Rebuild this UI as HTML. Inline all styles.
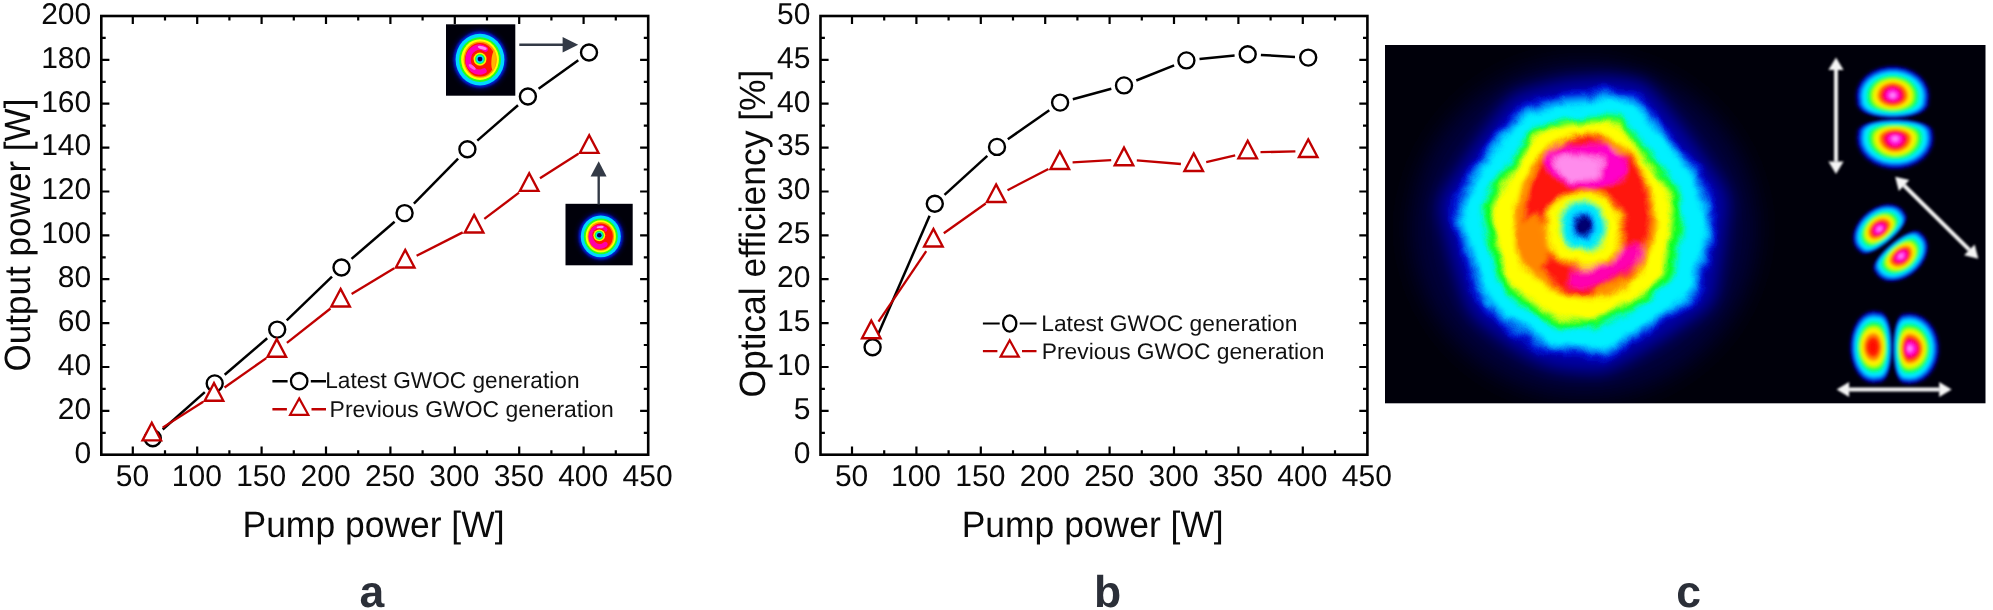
<!DOCTYPE html>
<html><head><meta charset="utf-8"><title>figure</title>
<style>html,body{margin:0;padding:0;background:#fff;}body{width:1993px;height:610px;overflow:hidden;}svg{display:block;will-change:transform;font-family:"Liberation Sans",sans-serif;text-rendering:geometricPrecision;}</style>
</head><body>
<svg width="1993" height="610" viewBox="0 0 1993 610">
<defs>
<filter id="b1" x="-20%" y="-20%" width="140%" height="140%"><feGaussianBlur stdDeviation="1"/></filter>
<filter id="b15" x="-20%" y="-20%" width="140%" height="140%"><feGaussianBlur stdDeviation="1.6"/></filter>
<filter id="b17" x="-20%" y="-20%" width="140%" height="140%"><feGaussianBlur stdDeviation="1.75"/></filter>
<filter id="b2" x="-20%" y="-20%" width="140%" height="140%"><feGaussianBlur stdDeviation="2.2"/></filter>
<filter id="b3" x="-20%" y="-20%" width="140%" height="140%"><feGaussianBlur stdDeviation="3.2"/></filter>
<filter id="b5" x="-30%" y="-30%" width="160%" height="160%"><feGaussianBlur stdDeviation="5"/></filter>
<filter id="b8" x="-30%" y="-30%" width="160%" height="160%"><feGaussianBlur stdDeviation="8"/></filter>
<filter id="b12" x="-40%" y="-40%" width="180%" height="180%"><feGaussianBlur stdDeviation="12"/></filter>
<filter id="rough" x="-10%" y="-10%" width="120%" height="120%">
<feGaussianBlur stdDeviation="2.4" result="bl"/>
<feTurbulence type="fractalNoise" baseFrequency="0.032" numOctaves="3" seed="5" result="t"/>
<feDisplacementMap in="bl" in2="t" scale="13" xChannelSelector="R" yChannelSelector="G"/>
</filter>
<filter id="b09" x="-20%" y="-20%" width="140%" height="140%"><feGaussianBlur stdDeviation="0.55"/></filter>
<filter id="b07" x="-20%" y="-20%" width="140%" height="140%"><feGaussianBlur stdDeviation="0.7"/></filter>
</defs>
<rect width="1993" height="610" fill="#fff"/>
<!-- chart a -->
<g transform="translate(0,0)" stroke="#000" stroke-width="2.6" fill="none" stroke-linecap="butt">
<rect x="101.3" y="16.0" width="546.9000000000001" height="438.7"/>
<g stroke-width="2.2">
<path d="M132.8 454.7v-8.1M132.8 16.0v8.1"/>
<path d="M197.2 454.7v-8.1M197.2 16.0v8.1"/>
<path d="M261.6 454.7v-8.1M261.6 16.0v8.1"/>
<path d="M326.0 454.7v-8.1M326.0 16.0v8.1"/>
<path d="M390.4 454.7v-8.1M390.4 16.0v8.1"/>
<path d="M454.8 454.7v-8.1M454.8 16.0v8.1"/>
<path d="M519.2 454.7v-8.1M519.2 16.0v8.1"/>
<path d="M583.6 454.7v-8.1M583.6 16.0v8.1"/>
<path d="M165.0 454.7v-4.4M165.0 16.0v4.4"/>
<path d="M229.4 454.7v-4.4M229.4 16.0v4.4"/>
<path d="M293.8 454.7v-4.4M293.8 16.0v4.4"/>
<path d="M358.2 454.7v-4.4M358.2 16.0v4.4"/>
<path d="M422.6 454.7v-4.4M422.6 16.0v4.4"/>
<path d="M487.0 454.7v-4.4M487.0 16.0v4.4"/>
<path d="M551.4 454.7v-4.4M551.4 16.0v4.4"/>
<path d="M615.8 454.7v-4.4M615.8 16.0v4.4"/>
<path d="M101.3 410.8h8.1M648.2 410.8h-8.1"/>
<path d="M101.3 367.0h8.1M648.2 367.0h-8.1"/>
<path d="M101.3 323.1h8.1M648.2 323.1h-8.1"/>
<path d="M101.3 279.2h8.1M648.2 279.2h-8.1"/>
<path d="M101.3 235.4h8.1M648.2 235.4h-8.1"/>
<path d="M101.3 191.5h8.1M648.2 191.5h-8.1"/>
<path d="M101.3 147.6h8.1M648.2 147.6h-8.1"/>
<path d="M101.3 103.7h8.1M648.2 103.7h-8.1"/>
<path d="M101.3 59.9h8.1M648.2 59.9h-8.1"/>
<path d="M101.3 432.8h4.4M648.2 432.8h-4.4"/>
<path d="M101.3 388.9h4.4M648.2 388.9h-4.4"/>
<path d="M101.3 345.0h4.4M648.2 345.0h-4.4"/>
<path d="M101.3 301.2h4.4M648.2 301.2h-4.4"/>
<path d="M101.3 257.3h4.4M648.2 257.3h-4.4"/>
<path d="M101.3 213.4h4.4M648.2 213.4h-4.4"/>
<path d="M101.3 169.5h4.4M648.2 169.5h-4.4"/>
<path d="M101.3 125.7h4.4M648.2 125.7h-4.4"/>
<path d="M101.3 81.8h4.4M648.2 81.8h-4.4"/>
<path d="M101.3 37.9h4.4M648.2 37.9h-4.4"/>
</g></g>
<g transform="translate(0,0)" font-size="30" fill="#0a0a0a">
<text x="132.4" y="486.3" text-anchor="middle">50</text>
<text x="196.8" y="486.3" text-anchor="middle">100</text>
<text x="261.2" y="486.3" text-anchor="middle">150</text>
<text x="325.6" y="486.3" text-anchor="middle">200</text>
<text x="390.0" y="486.3" text-anchor="middle">250</text>
<text x="454.4" y="486.3" text-anchor="middle">300</text>
<text x="518.8" y="486.3" text-anchor="middle">350</text>
<text x="583.2" y="486.3" text-anchor="middle">400</text>
<text x="647.6" y="486.3" text-anchor="middle">450</text>
<text x="91.2" y="462.5" text-anchor="end">0</text>
<text x="91.2" y="418.6" text-anchor="end">20</text>
<text x="91.2" y="374.8" text-anchor="end">40</text>
<text x="91.2" y="330.9" text-anchor="end">60</text>
<text x="91.2" y="287.0" text-anchor="end">80</text>
<text x="91.2" y="243.2" text-anchor="end">100</text>
<text x="91.2" y="199.3" text-anchor="end">120</text>
<text x="91.2" y="155.4" text-anchor="end">140</text>
<text x="91.2" y="111.5" text-anchor="end">160</text>
<text x="91.2" y="67.7" text-anchor="end">180</text>
<text x="91.2" y="23.8" text-anchor="end">200</text>
</g>
<g stroke="#000" stroke-width="2.5" fill="none">
<path d="M162.7 429.5L204.8 392.1"/>
<path d="M224.7 374.8L267.2 338.2"/>
<path d="M286.7 320.4L332.0 276.7"/>
<path d="M351.5 258.9L394.6 221.7"/>
<path d="M413.9 203.7L458.1 158.7"/>
<path d="M477.3 140.6L518.0 105.2"/>
<path d="M538.6 88.8L578.3 60.2"/>
</g>
<g stroke="#000" stroke-width="2.4" fill="#fff">
<circle cx="152.8" cy="438.2" r="8"/>
<circle cx="214.7" cy="383.4" r="8"/>
<circle cx="277.2" cy="329.6" r="8"/>
<circle cx="341.5" cy="267.5" r="8"/>
<circle cx="404.6" cy="213.1" r="8"/>
<circle cx="467.4" cy="149.3" r="8"/>
<circle cx="527.9" cy="96.5" r="8"/>
<circle cx="589.0" cy="52.5" r="8"/>
</g>
<g stroke="#c00000" stroke-width="2.3" fill="none">
<path d="M162.6 427.6L203.2 401.7"/>
<path d="M224.5 387.5L266.3 358.1"/>
<path d="M286.9 342.9L330.5 308.5"/>
<path d="M351.6 294.0L394.2 268.2"/>
<path d="M416.6 255.8L462.7 232.4"/>
<path d="M484.3 218.9L519.0 192.7"/>
<path d="M540.0 178.2L578.4 153.8"/>
</g>
<g stroke="#c00000" stroke-width="2.35" fill="#fff" stroke-linejoin="miter">
<path d="M151.8 422.8L161.1 440.4L142.5 440.4Z"/>
<path d="M214.0 383.1L223.3 400.7L204.7 400.7Z"/>
<path d="M276.8 339.1L286.1 356.7L267.5 356.7Z"/>
<path d="M340.6 288.9L349.9 306.5L331.3 306.5Z"/>
<path d="M405.2 249.9L414.5 267.5L395.9 267.5Z"/>
<path d="M474.1 214.9L483.4 232.5L464.8 232.5Z"/>
<path d="M529.2 173.3L538.5 190.9L519.9 190.9Z"/>
<path d="M589.2 135.3L598.5 152.9L579.9 152.9Z"/>
</g>
<text x="242.5" y="537.3" font-size="36.6" fill="#0a0a0a" textLength="262" lengthAdjust="spacingAndGlyphs">Pump power [W]</text>
<text transform="translate(29.8,371.4) rotate(-90)" font-size="36.6" fill="#0a0a0a" textLength="272.8" lengthAdjust="spacingAndGlyphs">Output power [W]</text>
<text x="371.9" y="607" font-size="44.5" font-weight="bold" text-anchor="middle" fill="#2b2f38">a</text>
<g fill="none" stroke-width="2.4">
<path d="M272.4 381.2H287.6M310.8 381.2H326.0" stroke="#000"/>
<ellipse cx="299.2" cy="381.2" rx="8.2" ry="8.2" stroke="#000" stroke-width="2.3"/>
<path d="M272.4 409.2H286.9M311.5 409.2H326.0" stroke="#c00000"/>
<path d="M299.2 398.4L308.3 414.8L290.1 414.8Z" stroke="#c00000" stroke-width="2.2"/>
</g>
<text x="325.2" y="387.9" font-size="23" fill="#111" textLength="254.3" lengthAdjust="spacingAndGlyphs">Latest GWOC generation</text>
<text x="329.6" y="416.6" font-size="23" fill="#111" textLength="284.2" lengthAdjust="spacingAndGlyphs">Previous GWOC generation</text>
<rect x="446" y="24.3" width="69.3" height="71.4" fill="#00000a"/>
<clipPath id="ci1"><rect x="446" y="24.3" width="69.3" height="71.4"/></clipPath>
<g clip-path="url(#ci1)"><ellipse cx="480.0" cy="59.6" rx="28.5" ry="30.5" fill="#000050" filter="url(#b2)"/>
<g filter="url(#b09)">
<ellipse cx="480.0" cy="59.6" rx="26.4" ry="28.0" fill="#0020d8" filter="url(#b1)"/>
<ellipse cx="480.0" cy="59.6" rx="24.4" ry="25.9" fill="#00d8ff"/>
<ellipse cx="480.0" cy="59.6" rx="20.9" ry="22.3" fill="#20ff20"/>
<ellipse cx="480.0" cy="59.6" rx="18.9" ry="20.3" fill="#ffff00"/>
<ellipse cx="480.2" cy="59.6" rx="16.6" ry="18.2" fill="#ff9000"/>
<ellipse cx="480.0" cy="59.8" rx="15.0" ry="16.8" fill="#ff1400"/>
<ellipse cx="493.6" cy="60.6" rx="2.2" ry="9.5" fill="#ffb400" transform="rotate(4 493.6 60.6)"/>
<path d="M485.3 49.1A11.2 12.4 0 1 0 484.0 70.9" fill="none" stroke="#ff00b4" stroke-width="5.4" stroke-linecap="round"/>
<ellipse cx="482.3" cy="47.8" rx="4.6" ry="1.6" fill="#ff8cf0" transform="rotate(16 482.3 47.8)"/>
<ellipse cx="472.2" cy="67.0" rx="4.2" ry="1.6" fill="#ff60e4" transform="rotate(38 472.2 67.0)"/>
<ellipse cx="480.0" cy="59.1" rx="6.5" ry="6.6" fill="#ffee00"/>
<ellipse cx="480.0" cy="59.1" rx="5.0" ry="5.1" fill="#20ff30"/>
<ellipse cx="480.0" cy="59.1" rx="3.8" ry="3.9" fill="#00d8ff"/>
<ellipse cx="480.0" cy="59.1" rx="2.4" ry="2.4" fill="#000060"/>
</g></g>
<path d="M519.3 44.8H564" stroke="#333a46" stroke-width="2.4" fill="none"/>
<path d="M562.6 37L578.2 44.8L562.6 52.5Z" fill="#333a46"/>
<rect x="565.5" y="203.8" width="67.2" height="61.5" fill="#00000a"/>
<clipPath id="ci2"><rect x="565.5" y="203.8" width="67.2" height="61.5"/></clipPath>
<g clip-path="url(#ci2)"><ellipse cx="600.8" cy="236.4" rx="24.0" ry="25.0" fill="#000050" filter="url(#b2)"/>
<g filter="url(#b09)">
<ellipse cx="600.8" cy="236.4" rx="22.0" ry="23.0" fill="#0020d8" filter="url(#b1)"/>
<ellipse cx="600.8" cy="236.4" rx="20.0" ry="20.9" fill="#00d8ff"/>
<ellipse cx="600.8" cy="236.4" rx="17.0" ry="17.9" fill="#20ff20"/>
<ellipse cx="600.8" cy="236.4" rx="15.1" ry="16.1" fill="#ffff00"/>
<ellipse cx="600.8" cy="236.4" rx="13.2" ry="14.4" fill="#ff9000"/>
<ellipse cx="600.8" cy="236.6" rx="12.0" ry="13.2" fill="#ff1400"/>
<path d="M605.0 229.3A8.7 9.6 0 1 0 605.2 244.3" fill="none" stroke="#ff00a8" stroke-width="5.0" stroke-linecap="round"/>
<ellipse cx="600.2" cy="227.2" rx="3.6" ry="1.3" fill="#ff90f0" transform="rotate(-6 600.2 227.2)"/>
<ellipse cx="599.3" cy="235.3" rx="7.0" ry="7.0" fill="#ff1800"/>
<ellipse cx="599.3" cy="235.3" rx="5.9" ry="5.9" fill="#ffee00"/>
<ellipse cx="599.3" cy="235.3" rx="4.6" ry="4.6" fill="#20ff30"/>
<ellipse cx="599.3" cy="235.3" rx="3.4" ry="3.4" fill="#00d8ff"/>
<ellipse cx="599.3" cy="235.3" rx="2.3" ry="2.3" fill="#000060"/>
</g></g>
<path d="M598.7 204.5V175" stroke="#333a46" stroke-width="2.4" fill="none"/>
<path d="M590.6 176.4L598.7 161.3L606.6 176.4Z" fill="#333a46"/>
<!-- chart b -->
<g transform="translate(719.2,0)" stroke="#000" stroke-width="2.6" fill="none" stroke-linecap="butt">
<rect x="101.3" y="16.0" width="546.9000000000001" height="438.7"/>
<g stroke-width="2.2">
<path d="M132.8 454.7v-8.1M132.8 16.0v8.1"/>
<path d="M197.2 454.7v-8.1M197.2 16.0v8.1"/>
<path d="M261.6 454.7v-8.1M261.6 16.0v8.1"/>
<path d="M326.0 454.7v-8.1M326.0 16.0v8.1"/>
<path d="M390.4 454.7v-8.1M390.4 16.0v8.1"/>
<path d="M454.8 454.7v-8.1M454.8 16.0v8.1"/>
<path d="M519.2 454.7v-8.1M519.2 16.0v8.1"/>
<path d="M583.6 454.7v-8.1M583.6 16.0v8.1"/>
<path d="M165.0 454.7v-4.4M165.0 16.0v4.4"/>
<path d="M229.4 454.7v-4.4M229.4 16.0v4.4"/>
<path d="M293.8 454.7v-4.4M293.8 16.0v4.4"/>
<path d="M358.2 454.7v-4.4M358.2 16.0v4.4"/>
<path d="M422.6 454.7v-4.4M422.6 16.0v4.4"/>
<path d="M487.0 454.7v-4.4M487.0 16.0v4.4"/>
<path d="M551.4 454.7v-4.4M551.4 16.0v4.4"/>
<path d="M615.8 454.7v-4.4M615.8 16.0v4.4"/>
<path d="M101.3 410.8h8.1M648.2 410.8h-8.1"/>
<path d="M101.3 367.0h8.1M648.2 367.0h-8.1"/>
<path d="M101.3 323.1h8.1M648.2 323.1h-8.1"/>
<path d="M101.3 279.2h8.1M648.2 279.2h-8.1"/>
<path d="M101.3 235.4h8.1M648.2 235.4h-8.1"/>
<path d="M101.3 191.5h8.1M648.2 191.5h-8.1"/>
<path d="M101.3 147.6h8.1M648.2 147.6h-8.1"/>
<path d="M101.3 103.7h8.1M648.2 103.7h-8.1"/>
<path d="M101.3 59.9h8.1M648.2 59.9h-8.1"/>
<path d="M101.3 432.8h4.4M648.2 432.8h-4.4"/>
<path d="M101.3 388.9h4.4M648.2 388.9h-4.4"/>
<path d="M101.3 345.0h4.4M648.2 345.0h-4.4"/>
<path d="M101.3 301.2h4.4M648.2 301.2h-4.4"/>
<path d="M101.3 257.3h4.4M648.2 257.3h-4.4"/>
<path d="M101.3 213.4h4.4M648.2 213.4h-4.4"/>
<path d="M101.3 169.5h4.4M648.2 169.5h-4.4"/>
<path d="M101.3 125.7h4.4M648.2 125.7h-4.4"/>
<path d="M101.3 81.8h4.4M648.2 81.8h-4.4"/>
<path d="M101.3 37.9h4.4M648.2 37.9h-4.4"/>
</g></g>
<g transform="translate(719.2,0)" font-size="30" fill="#0a0a0a">
<text x="132.4" y="486.3" text-anchor="middle">50</text>
<text x="196.8" y="486.3" text-anchor="middle">100</text>
<text x="261.2" y="486.3" text-anchor="middle">150</text>
<text x="325.6" y="486.3" text-anchor="middle">200</text>
<text x="390.0" y="486.3" text-anchor="middle">250</text>
<text x="454.4" y="486.3" text-anchor="middle">300</text>
<text x="518.8" y="486.3" text-anchor="middle">350</text>
<text x="583.2" y="486.3" text-anchor="middle">400</text>
<text x="647.6" y="486.3" text-anchor="middle">450</text>
<text x="91.2" y="462.5" text-anchor="end">0</text>
<text x="91.2" y="418.6" text-anchor="end">5</text>
<text x="91.2" y="374.8" text-anchor="end">10</text>
<text x="91.2" y="330.9" text-anchor="end">15</text>
<text x="91.2" y="287.0" text-anchor="end">20</text>
<text x="91.2" y="243.2" text-anchor="end">25</text>
<text x="91.2" y="199.3" text-anchor="end">30</text>
<text x="91.2" y="155.4" text-anchor="end">35</text>
<text x="91.2" y="111.5" text-anchor="end">40</text>
<text x="91.2" y="67.7" text-anchor="end">45</text>
<text x="91.2" y="23.8" text-anchor="end">50</text>
</g>
<g stroke="#000" stroke-width="2.5" fill="none">
<path d="M877.8 335.1L929.6 215.8"/>
<path d="M944.5 194.8L987.3 155.8"/>
<path d="M1007.8 139.3L1049.3 110.2"/>
<path d="M1072.8 99.2L1111.3 88.8"/>
<path d="M1136.3 80.5L1174.1 65.3"/>
<path d="M1199.5 59.1L1234.6 55.5"/>
<path d="M1260.9 54.9L1295.0 56.9"/>
</g>
<g stroke="#000" stroke-width="2.4" fill="#fff">
<circle cx="872.6" cy="347.2" r="8"/>
<circle cx="934.8" cy="203.7" r="8"/>
<circle cx="997.0" cy="146.9" r="8"/>
<circle cx="1060.1" cy="102.6" r="8"/>
<circle cx="1124.0" cy="85.4" r="8"/>
<circle cx="1186.4" cy="60.4" r="8"/>
<circle cx="1247.7" cy="54.2" r="8"/>
<circle cx="1308.2" cy="57.6" r="8"/>
</g>
<g stroke="#c00000" stroke-width="2.3" fill="none">
<path d="M878.5 321.7L926.2 251.2"/>
<path d="M943.8 233.2L985.7 203.5"/>
<path d="M1007.5 190.2L1048.4 169.0"/>
<path d="M1072.6 162.3L1111.2 160.1"/>
<path d="M1136.8 160.4L1180.9 164.0"/>
<path d="M1206.2 162.2L1235.2 155.4"/>
<path d="M1260.5 152.2L1295.4 151.4"/>
</g>
<g stroke="#c00000" stroke-width="2.35" fill="#fff" stroke-linejoin="miter">
<path d="M871.3 320.6L880.6 338.2L862.0 338.2Z"/>
<path d="M933.4 228.9L942.7 246.5L924.1 246.5Z"/>
<path d="M996.1 184.4L1005.4 202.0L986.8 202.0Z"/>
<path d="M1059.8 151.4L1069.1 169.0L1050.5 169.0Z"/>
<path d="M1124.0 147.6L1133.3 165.2L1114.7 165.2Z"/>
<path d="M1193.7 153.4L1203.0 171.0L1184.4 171.0Z"/>
<path d="M1247.7 140.8L1257.0 158.4L1238.4 158.4Z"/>
<path d="M1308.2 139.4L1317.5 157.0L1298.9 157.0Z"/>
</g>
<text x="961.7" y="537.3" font-size="36.6" fill="#0a0a0a" textLength="262" lengthAdjust="spacingAndGlyphs">Pump power [W]</text>
<text transform="translate(765,397.6) rotate(-90)" font-size="36.6" fill="#0a0a0a" textLength="328" lengthAdjust="spacingAndGlyphs">Optical efficiency [%]</text>
<text x="1107.7" y="607" font-size="44.5" font-weight="bold" text-anchor="middle" fill="#2b2f38">b</text>
<g fill="none" stroke-width="2.1">
<path d="M982.9 323.5H999.7M1019.7 323.5H1036.5" stroke="#000"/>
<ellipse cx="1009.7" cy="323.5" rx="6.6" ry="8.2" stroke="#000" stroke-width="2.3"/>
<path d="M982.9 351.1H997.4M1022.0 351.1H1036.5" stroke="#c00000"/>
<path d="M1009.7 340.3L1018.8 356.7L1000.6 356.7Z" stroke="#c00000" stroke-width="2.2"/>
</g>
<text x="1041.2" y="331.2" font-size="22.5" fill="#111" textLength="256.3" lengthAdjust="spacingAndGlyphs">Latest GWOC generation</text>
<text x="1041.8" y="358.7" font-size="22.5" fill="#111" textLength="282.7" lengthAdjust="spacingAndGlyphs">Previous GWOC generation</text>
<!-- panel c -->
<rect x="1385" y="45" width="600.5" height="358.3" fill="#00000a"/>
<clipPath id="cpc"><rect x="1385" y="45" width="600.5" height="358.3"/></clipPath>
<g clip-path="url(#cpc)">
<ellipse cx="1584" cy="229" rx="172" ry="168" fill="#00003a" filter="url(#b12)"/>
<path d="M1646.7 84.8C1653.9 90.8 1663.2 102.5 1673.1 115.1C1683.0 127.6 1697.2 146.9 1706.2 160.1C1715.3 173.4 1724.1 183.5 1727.4 194.7C1730.7 205.9 1727.5 214.5 1726.2 227.4C1725.0 240.3 1722.2 259.4 1719.8 272.0C1717.4 284.7 1717.8 294.5 1711.7 303.5C1705.6 312.5 1695.0 317.8 1683.2 326.2C1671.4 334.6 1653.3 346.4 1640.9 353.8C1628.4 361.2 1617.3 367.7 1608.5 370.8C1599.7 373.9 1596.2 372.6 1588.1 372.4C1580.0 372.2 1568.0 371.1 1560.0 369.7C1552.1 368.3 1547.3 367.0 1540.2 364.0C1533.0 361.0 1525.9 357.3 1517.3 351.7C1508.6 346.2 1496.2 337.1 1488.3 330.6C1480.3 324.0 1474.7 320.7 1469.5 312.5C1464.3 304.2 1461.4 293.7 1457.2 280.9C1453.1 268.1 1447.8 248.9 1444.8 235.8C1441.8 222.8 1437.1 213.6 1439.2 202.6C1441.4 191.5 1449.6 182.3 1457.6 169.6C1465.5 156.9 1478.1 138.4 1487.0 126.3C1495.9 114.3 1503.4 103.6 1511.0 97.2C1518.6 90.8 1523.8 90.9 1532.6 88.0C1541.4 85.2 1554.7 81.9 1563.8 80.2C1573.0 78.6 1580.3 78.7 1587.2 78.1C1594.2 77.5 1598.5 76.2 1605.6 76.4C1612.7 76.6 1623.1 77.8 1630.0 79.2C1636.8 80.6 1639.5 78.9 1646.7 84.8Z" fill="#0000a8" filter="url(#b8)"/>
<g filter="url(#rough)">
<path d="M1641.6 96.4C1648.2 101.9 1656.7 112.6 1665.8 124.1C1674.9 135.7 1687.9 153.3 1696.2 165.5C1704.5 177.7 1712.6 186.9 1715.6 197.2C1718.7 207.5 1715.7 215.4 1714.6 227.2C1713.4 239.0 1710.9 256.5 1708.6 268.1C1706.4 279.8 1706.8 288.7 1701.2 297.0C1695.6 305.3 1685.9 310.1 1675.1 317.8C1664.3 325.5 1647.7 336.3 1636.3 343.2C1624.9 350.0 1614.7 355.9 1606.6 358.7C1598.5 361.6 1595.3 360.4 1587.8 360.3C1580.4 360.1 1569.4 359.0 1562.1 357.7C1554.8 356.4 1550.4 355.3 1543.9 352.5C1537.3 349.8 1530.8 346.4 1522.9 341.3C1514.9 336.1 1503.6 327.9 1496.3 321.8C1489.0 315.8 1483.8 312.8 1479.1 305.2C1474.3 297.6 1471.6 288.0 1467.8 276.3C1464.0 264.6 1459.1 246.9 1456.4 234.9C1453.6 222.9 1449.3 214.6 1451.3 204.4C1453.2 194.3 1460.8 185.8 1468.1 174.1C1475.4 162.5 1486.9 145.5 1495.1 134.5C1503.3 123.4 1510.1 113.6 1517.1 107.7C1524.1 101.9 1528.8 101.9 1536.9 99.3C1545.0 96.8 1557.2 93.7 1565.6 92.2C1573.9 90.7 1580.7 90.8 1587.1 90.3C1593.4 89.7 1597.4 88.5 1603.9 88.7C1610.4 88.9 1620.0 89.9 1626.3 91.2C1632.5 92.5 1635.0 90.9 1641.6 96.4Z" fill="#0014e0"/>
<path d="M1638.6 103.1C1644.9 108.3 1653.0 118.5 1661.6 129.4C1670.2 140.3 1682.5 157.1 1690.4 168.6C1698.3 180.1 1705.9 188.9 1708.8 198.7C1711.7 208.4 1708.9 215.9 1707.8 227.1C1706.7 238.3 1704.3 254.9 1702.2 265.9C1700.1 276.9 1700.5 285.4 1695.2 293.2C1689.9 301.1 1680.7 305.7 1670.4 313.0C1660.1 320.3 1644.4 330.5 1633.6 337.0C1622.8 343.5 1613.1 349.1 1605.5 351.8C1597.8 354.4 1594.7 353.4 1587.7 353.2C1580.7 353.0 1570.2 352.0 1563.3 350.8C1556.3 349.6 1552.2 348.5 1546.0 345.9C1539.8 343.3 1533.6 340.0 1526.1 335.2C1518.6 330.4 1507.8 322.5 1500.9 316.8C1494.0 311.1 1489.1 308.2 1484.6 301.1C1480.1 293.9 1477.5 284.7 1473.9 273.6C1470.3 262.5 1465.7 245.8 1463.1 234.4C1460.5 223.1 1456.4 215.1 1458.2 205.5C1460.1 195.9 1467.3 187.9 1474.2 176.8C1481.1 165.8 1492.1 149.7 1499.8 139.2C1507.5 128.7 1514.1 119.4 1520.7 113.9C1527.2 108.3 1531.7 108.4 1539.4 105.9C1547.1 103.4 1558.7 100.5 1566.6 99.1C1574.5 97.7 1580.9 97.8 1587.0 97.3C1593.0 96.7 1596.7 95.6 1602.9 95.8C1609.1 96.0 1618.1 97.0 1624.1 98.2C1630.1 99.4 1632.4 97.9 1638.6 103.1Z" fill="#00a0ff"/>
<path d="M1636.2 108.6C1642.2 113.6 1649.9 123.3 1658.2 133.7C1666.4 144.1 1678.1 160.1 1685.7 171.1C1693.2 182.2 1700.5 190.5 1703.3 199.9C1706.0 209.2 1703.3 216.3 1702.3 227.0C1701.2 237.7 1698.9 253.5 1696.9 264.1C1694.9 274.6 1695.3 282.7 1690.2 290.2C1685.2 297.7 1676.4 302.1 1666.6 309.0C1656.8 316.0 1641.7 325.8 1631.4 332.0C1621.1 338.1 1611.9 343.5 1604.6 346.0C1597.2 348.6 1594.3 347.6 1587.6 347.4C1580.9 347.3 1570.9 346.3 1564.3 345.1C1557.6 344.0 1553.7 342.9 1547.8 340.5C1541.8 338.0 1535.9 334.9 1528.8 330.2C1521.6 325.6 1511.3 318.1 1504.7 312.7C1498.1 307.2 1493.4 304.5 1489.1 297.6C1484.8 290.8 1482.3 282.0 1478.9 271.4C1475.5 260.8 1471.1 244.8 1468.6 234.0C1466.1 223.1 1462.2 215.5 1464.0 206.4C1465.7 197.2 1472.6 189.5 1479.2 179.0C1485.8 168.4 1496.2 153.1 1503.6 143.1C1511.0 133.0 1517.2 124.2 1523.5 118.9C1529.8 113.6 1534.1 113.6 1541.5 111.3C1548.8 108.9 1559.9 106.1 1567.4 104.8C1575.0 103.4 1581.1 103.5 1586.9 103.0C1592.6 102.5 1596.2 101.5 1602.1 101.6C1608.0 101.8 1616.7 102.7 1622.3 103.9C1628.0 105.1 1630.2 103.6 1636.2 108.6Z" fill="#00f0ff"/>
<path d="M1626.0 121.2C1631.1 125.6 1637.7 134.1 1644.7 143.2C1651.7 152.3 1661.7 166.3 1668.1 175.9C1674.5 185.5 1680.7 192.9 1683.0 201.0C1685.4 209.2 1683.1 215.4 1682.2 224.8C1681.3 234.1 1679.4 247.9 1677.7 257.2C1676.0 266.4 1676.3 273.4 1672.0 280.0C1667.7 286.5 1660.2 290.4 1651.8 296.5C1643.5 302.6 1630.7 311.1 1622.0 316.5C1613.2 321.9 1605.3 326.6 1599.1 328.8C1592.9 331.1 1590.4 330.2 1584.7 330.0C1579.0 329.9 1570.5 329.1 1564.9 328.0C1559.2 327.0 1555.9 326.1 1550.8 324.0C1545.8 321.8 1540.8 319.1 1534.7 315.0C1528.6 311.0 1519.8 304.4 1514.2 299.7C1508.6 294.9 1504.6 292.5 1501.0 286.5C1497.3 280.5 1495.2 272.9 1492.3 263.6C1489.4 254.3 1485.6 240.3 1483.5 230.8C1481.4 221.4 1478.1 214.7 1479.6 206.7C1481.1 198.7 1486.9 192.0 1492.5 182.8C1498.2 173.5 1507.0 160.1 1513.3 151.4C1519.6 142.6 1524.9 134.8 1530.2 130.2C1535.6 125.6 1539.3 125.6 1545.5 123.6C1551.7 121.5 1561.1 119.1 1567.6 117.9C1574.0 116.7 1579.2 116.8 1584.1 116.3C1589.0 115.9 1592.0 115.0 1597.0 115.1C1602.1 115.2 1609.4 116.1 1614.2 117.1C1619.1 118.1 1621.0 116.9 1626.0 121.2Z" fill="#10ff20"/>
<path d="M1620.8 128.8C1625.3 132.7 1631.1 140.5 1637.3 148.9C1643.4 157.2 1652.2 170.0 1657.9 178.9C1663.5 187.7 1669.0 194.4 1671.0 201.9C1673.1 209.3 1671.1 215.0 1670.3 223.6C1669.5 232.2 1667.8 244.9 1666.3 253.3C1664.8 261.7 1665.1 268.2 1661.3 274.2C1657.5 280.2 1650.9 283.7 1643.6 289.3C1636.2 294.9 1625.0 302.7 1617.2 307.7C1609.5 312.6 1602.6 316.9 1597.1 319.0C1591.7 321.0 1589.5 320.2 1584.4 320.1C1579.4 320.0 1572.0 319.2 1567.0 318.2C1562.0 317.3 1559.0 316.5 1554.6 314.5C1550.2 312.5 1545.8 310.0 1540.4 306.3C1535.0 302.6 1527.3 296.6 1522.4 292.2C1517.4 287.9 1513.9 285.7 1510.7 280.2C1507.5 274.7 1505.6 267.7 1503.1 259.2C1500.5 250.7 1497.2 237.9 1495.3 229.2C1493.5 220.5 1490.6 214.4 1491.9 207.1C1493.2 199.7 1498.3 193.6 1503.3 185.1C1508.2 176.7 1516.0 164.4 1521.6 156.4C1527.1 148.3 1531.8 141.2 1536.5 137.0C1541.2 132.7 1544.4 132.8 1549.9 130.9C1555.4 129.0 1563.7 126.8 1569.3 125.7C1575.0 124.6 1579.6 124.7 1583.9 124.3C1588.2 123.9 1590.9 123.0 1595.3 123.2C1599.7 123.3 1606.2 124.1 1610.5 125.0C1614.7 125.9 1616.4 124.8 1620.8 128.8Z" fill="#ffff00"/>
<path d="M1656.8 217.0C1657.0 227.4 1654.6 238.9 1650.9 248.4C1647.3 257.9 1640.9 266.1 1634.8 274.0C1628.6 281.9 1622.1 292.1 1614.0 295.9C1605.8 299.7 1595.2 297.1 1586.0 296.7C1576.8 296.4 1567.5 296.9 1558.8 293.7C1550.2 290.5 1540.2 285.2 1534.2 277.6C1528.2 269.9 1525.9 257.8 1522.6 247.7C1519.4 237.6 1515.2 227.5 1514.7 217.0C1514.2 206.5 1516.0 194.4 1519.8 184.9C1523.6 175.5 1531.1 167.8 1537.6 160.5C1544.2 153.2 1551.0 145.7 1559.1 141.1C1567.2 136.4 1577.0 132.7 1586.0 132.6C1595.0 132.6 1604.5 136.5 1613.1 140.6C1621.6 144.7 1631.0 149.7 1637.1 157.3C1643.2 164.8 1646.5 176.2 1649.8 186.1C1653.1 196.1 1656.6 206.6 1656.8 217.0Z" fill="#ff9000"/>
<path d="M1650.4 216.0C1650.3 225.8 1647.9 236.1 1644.8 245.3C1641.7 254.4 1637.6 264.2 1631.9 270.9C1626.2 277.5 1617.9 281.0 1610.4 285.0C1602.9 289.1 1595.0 294.7 1587.0 295.4C1579.0 296.1 1569.6 293.5 1562.1 289.4C1554.6 285.4 1547.0 278.8 1541.8 271.3C1536.5 263.8 1533.8 253.7 1530.8 244.5C1527.8 235.3 1524.0 225.6 1523.9 216.0C1523.7 206.4 1526.5 195.9 1529.8 187.0C1533.1 178.2 1538.2 170.5 1543.6 162.9C1548.9 155.3 1554.6 146.3 1561.8 141.6C1569.0 137.0 1579.0 134.1 1587.0 135.2C1595.0 136.3 1602.3 144.0 1610.0 148.1C1617.7 152.2 1627.2 153.2 1633.2 159.6C1639.1 165.9 1642.9 176.8 1645.8 186.2C1648.7 195.6 1650.6 206.2 1650.4 216.0Z" fill="#ff1808"/>
<path d="M1548.2 244.0C1547.9 249.4 1547.2 256.4 1545.3 260.8C1543.4 265.2 1539.8 269.1 1536.8 270.5C1533.9 271.9 1530.1 271.3 1527.5 269.2C1525.0 267.1 1522.9 262.4 1521.3 257.9C1519.8 253.3 1518.1 247.4 1518.3 241.9C1518.5 236.4 1520.4 229.2 1522.5 224.9C1524.7 220.6 1528.2 217.4 1531.2 216.1C1534.2 214.7 1537.9 214.7 1540.5 216.7C1543.1 218.7 1545.4 223.5 1546.7 228.1C1548.0 232.6 1548.4 238.5 1548.2 244.0Z" fill="#ff8600"/>
<path d="M1627.7 167.6C1627.9 171.2 1626.9 175.4 1623.6 178.4C1620.2 181.4 1613.7 184.1 1607.4 185.6C1601.2 187.2 1592.8 188.4 1585.8 187.9C1578.9 187.3 1571.6 184.6 1565.9 182.3C1560.1 180.0 1554.5 177.2 1551.3 174.0C1548.1 170.9 1546.6 166.9 1546.8 163.4C1547.0 159.9 1549.2 156.3 1552.4 153.3C1555.7 150.3 1560.5 146.6 1566.4 145.3C1572.4 143.9 1581.0 144.5 1588.1 145.0C1595.2 145.4 1603.3 145.9 1609.0 147.9C1614.8 149.9 1619.5 153.7 1622.6 157.0C1625.7 160.3 1627.6 164.1 1627.7 167.6Z" fill="#ff00c8"/>
<path d="M1601.4 167.5C1601.2 170.1 1603.5 173.4 1601.1 175.4C1598.7 177.3 1592.4 178.5 1587.3 179.1C1582.1 179.7 1574.5 180.4 1570.1 179.1C1565.7 177.8 1563.2 173.9 1561.0 171.4C1558.9 169.0 1557.6 166.9 1557.3 164.4C1556.9 161.9 1556.1 158.4 1558.7 156.5C1561.3 154.6 1567.9 153.1 1572.7 152.9C1577.6 152.7 1583.0 154.4 1587.9 155.5C1592.8 156.6 1599.8 157.7 1602.1 159.7C1604.3 161.7 1601.6 164.9 1601.4 167.5Z" fill="#ff8cec"/>
<path d="M1616.6 274.3C1616.3 276.2 1612.2 278.4 1609.3 280.2C1606.5 282.1 1603.7 284.5 1599.6 285.5C1595.6 286.5 1589.7 286.3 1584.9 286.2C1580.1 286.2 1573.5 286.3 1570.8 285.2C1568.2 284.0 1569.1 281.3 1569.0 279.3C1568.8 277.3 1567.7 275.1 1569.9 273.3C1572.1 271.5 1577.8 269.6 1582.4 268.6C1587.1 267.5 1593.0 266.6 1597.8 266.7C1602.6 266.7 1608.1 267.5 1611.2 268.8C1614.4 270.1 1617.0 272.4 1616.6 274.3Z" fill="#ff00b0"/>
<path d="M1640.0 245.6C1641.4 246.7 1642.7 248.8 1641.9 251.5C1641.1 254.2 1638.2 258.8 1635.4 261.9C1632.5 265.1 1628.3 267.9 1624.6 270.4C1621.0 272.9 1616.6 276.0 1613.7 276.8C1610.8 277.6 1608.2 276.6 1607.3 275.0C1606.4 273.5 1607.6 270.2 1608.5 267.4C1609.3 264.6 1610.0 261.0 1612.4 258.1C1614.9 255.1 1619.9 251.8 1623.4 249.5C1626.8 247.3 1630.6 245.3 1633.4 244.7C1636.2 244.0 1638.6 244.4 1640.0 245.6Z" fill="#ff00b0"/>
<path d="M1626.7 229.5C1627.0 236.1 1625.4 243.9 1622.1 249.9C1618.7 255.8 1612.8 262.2 1606.6 265.3C1600.3 268.3 1591.9 268.3 1584.6 268.2C1577.3 268.1 1569.2 267.7 1563.0 264.6C1556.9 261.5 1551.0 255.5 1547.5 249.7C1544.0 243.8 1541.6 236.0 1541.9 229.5C1542.3 223.0 1545.9 216.0 1549.6 210.5C1553.4 205.1 1558.8 200.3 1564.6 196.9C1570.4 193.6 1577.7 190.9 1584.6 190.5C1591.5 190.0 1600.2 191.2 1606.1 194.4C1612.0 197.7 1616.6 204.4 1620.1 210.2C1623.5 216.1 1626.4 222.9 1626.7 229.5Z" fill="#ff9000"/>
<path d="M1622.1 229.5C1622.3 235.4 1620.5 242.3 1617.4 247.5C1614.3 252.6 1608.9 257.4 1603.4 260.4C1598.0 263.4 1590.9 265.3 1584.6 265.3C1578.3 265.3 1571.3 263.3 1565.8 260.4C1560.2 257.5 1554.2 252.9 1551.2 247.8C1548.1 242.6 1547.5 235.6 1547.5 229.5C1547.5 223.4 1548.1 216.2 1551.2 211.3C1554.4 206.3 1561.0 202.7 1566.5 199.9C1572.1 197.0 1578.5 194.4 1584.6 194.2C1590.7 194.0 1598.0 195.8 1603.3 198.8C1608.6 201.8 1613.2 207.0 1616.3 212.1C1619.5 217.3 1621.9 223.6 1622.1 229.5Z" fill="#ffff00"/>
<circle cx="1583.6" cy="227.5" r="26" fill="#20ff20"/>
<circle cx="1583.6" cy="227.5" r="22.5" fill="#00e8ff"/>
<circle cx="1583.6" cy="227.5" r="13.5" fill="#0040ff"/>
<circle cx="1583.6" cy="227.5" r="10" fill="#000070"/>
</g>
<g filter="url(#b17)">
<g transform="translate(1892.7 95.7) rotate(0)"><path d="M37.8 0.0L36.7 10.0L33.5 14.6L28.3 18.0L21.5 20.4L13.4 22.0L4.6 22.8L-4.6 22.8L-13.4 22.0L-21.5 20.4L-28.3 18.0L-33.5 14.6L-36.7 10.0L-37.8 -0.0L-36.7 -7.3L-33.5 -14.2L-28.3 -20.3L-21.5 -25.2L-13.4 -28.7L-4.6 -30.4L4.6 -30.4L13.4 -28.7L21.5 -25.2L28.3 -20.3L33.5 -14.2L36.7 -7.3Z" fill="#000058"/><path d="M35.0 0.0L34.0 9.4L31.0 13.8L26.2 17.0L19.9 19.2L12.4 20.7L4.2 21.5L-4.2 21.5L-12.4 20.7L-19.9 19.2L-26.2 17.0L-31.0 13.8L-34.0 9.4L-35.0 -0.0L-34.0 -6.7L-31.0 -13.0L-26.2 -18.6L-19.9 -23.0L-12.4 -26.2L-4.2 -27.8L4.2 -27.8L12.4 -26.2L19.9 -23.0L26.2 -18.6L31.0 -13.0L34.0 -6.7Z" fill="#0018d8"/><path d="M32.6 0.0L31.6 8.8L28.8 12.9L24.4 15.8L18.5 18.0L11.5 19.3L3.9 20.0L-3.9 20.0L-11.5 19.3L-18.5 18.0L-24.4 15.8L-28.8 12.9L-31.6 8.8L-32.6 -0.0L-31.6 -6.1L-28.8 -11.9L-24.4 -16.9L-18.5 -21.0L-11.5 -23.9L-3.9 -25.4L3.9 -25.4L11.5 -23.9L18.5 -21.0L24.4 -16.9L28.8 -11.9L31.6 -6.1Z" fill="#0090ff"/><path d="M30.1 0.0L29.2 8.2L26.6 12.0L22.5 14.8L17.1 16.7L10.7 18.0L3.6 18.7L-3.6 18.7L-10.7 18.0L-17.1 16.7L-22.5 14.8L-26.6 12.0L-29.2 8.2L-30.1 -0.0L-29.2 -5.6L-26.6 -10.9L-22.5 -15.5L-17.1 -19.2L-10.7 -21.8L-3.6 -23.2L3.6 -23.2L10.7 -21.8L17.1 -19.2L22.5 -15.5L26.6 -10.9L29.2 -5.6Z" fill="#00e8ff"/><path d="M26.3 0.0L25.6 6.6L23.3 10.2L19.7 12.9L15.0 14.9L9.3 16.2L3.2 16.8L-3.2 16.8L-9.3 16.2L-15.0 14.9L-19.7 12.9L-23.3 10.2L-25.6 6.6L-26.3 -0.0L-25.6 -5.0L-23.3 -9.6L-19.7 -13.8L-15.0 -17.1L-9.3 -19.4L-3.2 -20.6L3.2 -20.6L9.3 -19.4L15.0 -17.1L19.7 -13.8L23.3 -9.6L25.6 -5.0Z" fill="#00ff90"/><path d="M23.9 0.0L23.2 5.6L21.1 9.0L17.9 11.6L13.6 13.6L8.5 14.9L2.9 15.6L-2.9 15.6L-8.5 14.9L-13.6 13.6L-17.9 11.6L-21.1 9.0L-23.2 5.6L-23.9 -0.0L-23.2 -4.5L-21.1 -8.8L-17.9 -12.6L-13.6 -15.6L-8.5 -17.8L-2.9 -18.9L2.9 -18.9L8.5 -17.8L13.6 -15.6L17.9 -12.6L21.1 -8.8L23.2 -4.5Z" fill="#20ff20"/><path d="M21.1 0.0L20.5 4.6L18.7 7.7L15.8 10.2L12.0 12.1L7.5 13.4L2.5 14.0L-2.5 14.0L-7.5 13.4L-12.0 12.1L-15.8 10.2L-18.7 7.7L-20.5 4.6L-21.1 -0.0L-20.5 -4.1L-18.7 -8.0L-15.8 -11.4L-12.0 -14.1L-7.5 -16.0L-2.5 -17.0L2.5 -17.0L7.5 -16.0L12.0 -14.1L15.8 -11.4L18.7 -8.0L20.5 -4.1Z" fill="#c0ff00"/><path d="M18.6 0.0L18.1 3.8L16.5 6.6L13.9 9.0L10.6 10.8L6.6 12.0L2.2 12.7L-2.2 12.7L-6.6 12.0L-10.6 10.8L-13.9 9.0L-16.5 6.6L-18.1 3.8L-18.6 -0.0L-18.1 -3.7L-16.5 -7.2L-13.9 -10.3L-10.6 -12.8L-6.6 -14.5L-2.2 -15.4L2.2 -15.4L6.6 -14.5L10.6 -12.8L13.9 -10.3L16.5 -7.2L18.1 -3.7Z" fill="#ffee00"/><path d="M15.5 0.0L15.0 2.9L13.7 5.3L11.6 7.4L8.8 9.1L5.5 10.2L1.9 10.8L-1.9 10.8L-5.5 10.2L-8.8 9.1L-11.6 7.4L-13.7 5.3L-15.0 2.9L-15.5 -0.0L-15.0 -3.2L-13.7 -6.2L-11.6 -8.9L-8.8 -11.0L-5.5 -12.5L-1.9 -13.3L1.9 -13.3L5.5 -12.5L8.8 -11.0L11.6 -8.9L13.7 -6.2L15.0 -3.2Z" fill="#ff8800"/><path d="M12.4 0.0L12.0 2.2L11.0 4.2L9.3 6.0L7.0 7.4L4.4 8.4L1.5 8.9L-1.5 8.9L-4.4 8.4L-7.0 7.4L-9.3 6.0L-11.0 4.2L-12.0 2.2L-12.4 -0.0L-12.0 -2.7L-11.0 -5.2L-9.3 -7.4L-7.0 -9.2L-4.4 -10.5L-1.5 -11.1L1.5 -11.1L4.4 -10.5L7.0 -9.2L9.3 -7.4L11.0 -5.2L12.0 -2.7Z" fill="#ff1000"/><path d="M9.6 0.0L9.3 1.6L8.5 3.2L7.2 4.5L5.5 5.6L3.4 6.4L1.2 6.8L-1.2 6.8L-3.4 6.4L-5.5 5.6L-7.2 4.5L-8.5 3.2L-9.3 1.6L-9.6 -0.0L-9.3 -2.2L-8.5 -4.2L-7.2 -6.0L-5.5 -7.4L-3.4 -8.4L-1.2 -8.9L1.2 -8.9L3.4 -8.4L5.5 -7.4L7.2 -6.0L8.5 -4.2L9.3 -2.2Z" fill="#ff0070"/><path d="M6.8 0.0L6.6 1.1L6.0 2.2L5.1 3.1L3.9 3.9L2.4 4.4L0.8 4.7L-0.8 4.7L-2.4 4.4L-3.9 3.9L-5.1 3.1L-6.0 2.2L-6.6 1.1L-6.8 -0.0L-6.6 -1.6L-6.0 -3.1L-5.1 -4.4L-3.9 -5.5L-2.4 -6.3L-0.8 -6.6L0.8 -6.6L2.4 -6.3L3.9 -5.5L5.1 -4.4L6.0 -3.1L6.6 -1.6Z" fill="#ff10e0"/><path d="M3.1 0.0L3.0 0.5L2.7 1.0L2.3 1.4L1.8 1.8L1.1 2.0L0.4 2.1L-0.4 2.1L-1.1 2.0L-1.8 1.8L-2.3 1.4L-2.7 1.0L-3.0 0.5L-3.1 -0.0L-3.0 -0.7L-2.7 -1.4L-2.3 -2.0L-1.8 -2.5L-1.1 -2.8L-0.4 -3.0L0.4 -3.0L1.1 -2.8L1.8 -2.5L2.3 -2.0L2.7 -1.4L3.0 -0.7Z" fill="#ff80ff"/></g>
<g transform="translate(1895.2 138.1) rotate(180)"><path d="M39.6 0.0L38.5 8.4L35.1 12.4L29.7 15.2L22.5 17.2L14.1 18.5L4.8 19.2L-4.8 19.2L-14.1 18.5L-22.5 17.2L-29.7 15.2L-35.1 12.4L-38.5 8.4L-39.6 -0.0L-38.5 -7.7L-35.1 -14.9L-29.7 -21.3L-22.5 -26.4L-14.1 -30.0L-4.8 -31.8L4.8 -31.8L14.1 -30.0L22.5 -26.4L29.7 -21.3L35.1 -14.9L38.5 -7.7Z" fill="#000058"/><path d="M36.7 0.0L35.7 7.9L32.5 11.7L27.5 14.3L20.9 16.2L13.0 17.5L4.4 18.1L-4.4 18.1L-13.0 17.5L-20.9 16.2L-27.5 14.3L-32.5 11.7L-35.7 7.9L-36.7 -0.0L-35.7 -7.0L-32.5 -13.6L-27.5 -19.4L-20.9 -24.1L-13.0 -27.4L-4.4 -29.1L4.4 -29.1L13.0 -27.4L20.9 -24.1L27.5 -19.4L32.5 -13.6L35.7 -7.0Z" fill="#0018d8"/><path d="M34.1 0.0L33.1 7.4L30.2 10.9L25.5 13.4L19.4 15.2L12.1 16.3L4.1 16.9L-4.1 16.9L-12.1 16.3L-19.4 15.2L-25.5 13.4L-30.2 10.9L-33.1 7.4L-34.1 -0.0L-33.1 -6.4L-30.2 -12.4L-25.5 -17.7L-19.4 -22.0L-12.1 -25.0L-4.1 -26.5L4.1 -26.5L12.1 -25.0L19.4 -22.0L25.5 -17.7L30.2 -12.4L33.1 -6.4Z" fill="#0090ff"/><path d="M31.5 0.0L30.6 6.9L27.9 10.1L23.6 12.5L17.9 14.1L11.2 15.2L3.8 15.7L-3.8 15.7L-11.2 15.2L-17.9 14.1L-23.6 12.5L-27.9 10.1L-30.6 6.9L-31.5 -0.0L-30.6 -5.8L-27.9 -11.3L-23.6 -16.2L-17.9 -20.1L-11.2 -22.8L-3.8 -24.2L3.8 -24.2L11.2 -22.8L17.9 -20.1L23.6 -16.2L27.9 -11.3L30.6 -5.8Z" fill="#00e8ff"/><path d="M27.6 0.0L26.8 5.5L24.5 8.6L20.7 10.9L15.7 12.5L9.8 13.6L3.3 14.2L-3.3 14.2L-9.8 13.6L-15.7 12.5L-20.7 10.9L-24.5 8.6L-26.8 5.5L-27.6 -0.0L-26.8 -5.2L-24.5 -10.1L-20.7 -14.4L-15.7 -17.9L-9.8 -20.3L-3.3 -21.5L3.3 -21.5L9.8 -20.3L15.7 -17.9L20.7 -14.4L24.5 -10.1L26.8 -5.2Z" fill="#00ff90"/><path d="M25.0 0.0L24.3 4.7L22.2 7.6L18.7 9.8L14.2 11.5L8.9 12.6L3.0 13.2L-3.0 13.2L-8.9 12.6L-14.2 11.5L-18.7 9.8L-22.2 7.6L-24.3 4.7L-25.0 -0.0L-24.3 -4.8L-22.2 -9.2L-18.7 -13.2L-14.2 -16.4L-8.9 -18.6L-3.0 -19.7L3.0 -19.7L8.9 -18.6L14.2 -16.4L18.7 -13.2L22.2 -9.2L24.3 -4.8Z" fill="#20ff20"/><path d="M22.1 0.0L21.5 3.8L19.6 6.5L16.5 8.6L12.6 10.2L7.8 11.3L2.7 11.8L-2.7 11.8L-7.8 11.3L-12.6 10.2L-16.5 8.6L-19.6 6.5L-21.5 3.8L-22.1 -0.0L-21.5 -4.3L-19.6 -8.3L-16.5 -11.9L-12.6 -14.8L-7.8 -16.8L-2.7 -17.8L2.7 -17.8L7.8 -16.8L12.6 -14.8L16.5 -11.9L19.6 -8.3L21.5 -4.3Z" fill="#c0ff00"/><path d="M19.5 0.0L18.9 3.2L17.3 5.6L14.6 7.6L11.1 9.1L6.9 10.1L2.4 10.7L-2.4 10.7L-6.9 10.1L-11.1 9.1L-14.6 7.6L-17.3 5.6L-18.9 3.2L-19.5 -0.0L-18.9 -3.9L-17.3 -7.5L-14.6 -10.7L-11.1 -13.3L-6.9 -15.2L-2.4 -16.1L2.4 -16.1L6.9 -15.2L11.1 -13.3L14.6 -10.7L17.3 -7.5L18.9 -3.9Z" fill="#ffee00"/><path d="M16.2 0.0L15.8 2.4L14.4 4.5L12.2 6.3L9.2 7.7L5.8 8.6L2.0 9.1L-2.0 9.1L-5.8 8.6L-9.2 7.7L-12.2 6.3L-14.4 4.5L-15.8 2.4L-16.2 -0.0L-15.8 -3.3L-14.4 -6.5L-12.2 -9.3L-9.2 -11.5L-5.8 -13.1L-2.0 -13.9L2.0 -13.9L5.8 -13.1L9.2 -11.5L12.2 -9.3L14.4 -6.5L15.8 -3.3Z" fill="#ff8800"/><path d="M13.0 0.0L12.6 1.8L11.5 3.5L9.7 5.0L7.4 6.3L4.6 7.1L1.6 7.5L-1.6 7.5L-4.6 7.1L-7.4 6.3L-9.7 5.0L-11.5 3.5L-12.6 1.8L-13.0 -0.0L-12.6 -2.8L-11.5 -5.5L-9.7 -7.8L-7.4 -9.7L-4.6 -11.0L-1.6 -11.6L1.6 -11.6L4.6 -11.0L7.4 -9.7L9.7 -7.8L11.5 -5.5L12.6 -2.8Z" fill="#ff1000"/><path d="M10.1 0.0L9.8 1.4L8.9 2.7L7.5 3.8L5.7 4.8L3.6 5.4L1.2 5.7L-1.2 5.7L-3.6 5.4L-5.7 4.8L-7.5 3.8L-8.9 2.7L-9.8 1.4L-10.1 -0.0L-9.8 -2.3L-8.9 -4.4L-7.5 -6.2L-5.7 -7.7L-3.6 -8.8L-1.2 -9.3L1.2 -9.3L3.6 -8.8L5.7 -7.7L7.5 -6.2L8.9 -4.4L9.8 -2.3Z" fill="#ff0070"/><path d="M7.2 0.0L6.9 0.9L6.3 1.8L5.4 2.6L4.1 3.3L2.5 3.7L0.9 3.9L-0.9 3.9L-2.5 3.7L-4.1 3.3L-5.4 2.6L-6.3 1.8L-6.9 0.9L-7.2 -0.0L-6.9 -1.7L-6.3 -3.3L-5.4 -4.6L-4.1 -5.8L-2.5 -6.5L-0.9 -7.0L0.9 -7.0L2.5 -6.5L4.1 -5.8L5.4 -4.6L6.3 -3.3L6.9 -1.7Z" fill="#ff10e0"/><path d="M3.2 0.0L3.2 0.4L2.9 0.8L2.4 1.2L1.8 1.5L1.2 1.7L0.4 1.8L-0.4 1.8L-1.2 1.7L-1.8 1.5L-2.4 1.2L-2.9 0.8L-3.2 0.4L-3.2 -0.0L-3.2 -0.8L-2.9 -1.5L-2.4 -2.1L-1.8 -2.6L-1.2 -3.0L-0.4 -3.2L0.4 -3.2L1.2 -3.0L1.8 -2.6L2.4 -2.1L2.9 -1.5L3.2 -0.8Z" fill="#ff80ff"/></g>
<g transform="translate(1879.7 229.3) rotate(-40)"><path d="M31.1 0.0L30.2 6.7L27.5 9.9L23.3 12.2L17.7 13.8L11.0 14.9L3.7 15.4L-3.7 15.4L-11.0 14.9L-17.7 13.8L-23.3 12.2L-27.5 9.9L-30.2 6.7L-31.1 -0.0L-30.2 -5.2L-27.5 -10.1L-23.3 -14.4L-17.7 -17.9L-11.0 -20.3L-3.7 -21.6L3.7 -21.6L11.0 -20.3L17.7 -17.9L23.3 -14.4L27.5 -10.1L30.2 -5.2Z" fill="#000058"/><path d="M28.8 0.0L28.0 6.4L25.5 9.4L21.6 11.5L16.4 13.0L10.2 14.0L3.5 14.5L-3.5 14.5L-10.2 14.0L-16.4 13.0L-21.6 11.5L-25.5 9.4L-28.0 6.4L-28.8 -0.0L-28.0 -4.7L-25.5 -9.2L-21.6 -13.2L-16.4 -16.3L-10.2 -18.5L-3.5 -19.7L3.5 -19.7L10.2 -18.5L16.4 -16.3L21.6 -13.2L25.5 -9.2L28.0 -4.7Z" fill="#0018d8"/><path d="M26.8 0.0L26.0 5.9L23.7 8.7L20.0 10.7L15.2 12.2L9.5 13.1L3.2 13.6L-3.2 13.6L-9.5 13.1L-15.2 12.2L-20.0 10.7L-23.7 8.7L-26.0 5.9L-26.8 -0.0L-26.0 -4.3L-23.7 -8.4L-20.0 -12.0L-15.2 -14.9L-9.5 -16.9L-3.2 -18.0L3.2 -18.0L9.5 -16.9L15.2 -14.9L20.0 -12.0L23.7 -8.4L26.0 -4.3Z" fill="#0090ff"/><path d="M24.7 0.0L24.0 5.5L21.9 8.1L18.5 10.0L14.1 11.3L8.8 12.2L3.0 12.6L-3.0 12.6L-8.8 12.2L-14.1 11.3L-18.5 10.0L-21.9 8.1L-24.0 5.5L-24.7 -0.0L-24.0 -4.0L-21.9 -7.7L-18.5 -11.0L-14.1 -13.6L-8.8 -15.5L-3.0 -16.4L3.0 -16.4L8.8 -15.5L14.1 -13.6L18.5 -11.0L21.9 -7.7L24.0 -4.0Z" fill="#00e8ff"/><path d="M21.7 0.0L21.0 4.4L19.2 6.9L16.2 8.7L12.3 10.1L7.7 10.9L2.6 11.4L-2.6 11.4L-7.7 10.9L-12.3 10.1L-16.2 8.7L-19.2 6.9L-21.0 4.4L-21.7 -0.0L-21.0 -3.5L-19.2 -6.8L-16.2 -9.7L-12.3 -12.1L-7.7 -13.7L-2.6 -14.6L2.6 -14.6L7.7 -13.7L12.3 -12.1L16.2 -9.7L19.2 -6.8L21.0 -3.5Z" fill="#00ff90"/><path d="M19.6 0.0L19.1 3.8L17.4 6.1L14.7 7.9L11.2 9.2L7.0 10.1L2.4 10.6L-2.4 10.6L-7.0 10.1L-11.2 9.2L-14.7 7.9L-17.4 6.1L-19.1 3.8L-19.6 -0.0L-19.1 -3.2L-17.4 -6.3L-14.7 -8.9L-11.2 -11.1L-7.0 -12.6L-2.4 -13.4L2.4 -13.4L7.0 -12.6L11.2 -11.1L14.7 -8.9L17.4 -6.3L19.1 -3.2Z" fill="#20ff20"/><path d="M17.3 0.0L16.8 3.1L15.4 5.2L13.0 6.9L9.9 8.2L6.1 9.1L2.1 9.5L-2.1 9.5L-6.1 9.1L-9.9 8.2L-13.0 6.9L-15.4 5.2L-16.8 3.1L-17.3 -0.0L-16.8 -2.9L-15.4 -5.6L-13.0 -8.1L-9.9 -10.0L-6.1 -11.4L-2.1 -12.1L2.1 -12.1L6.1 -11.4L9.9 -10.0L13.0 -8.1L15.4 -5.6L16.8 -2.9Z" fill="#c0ff00"/><path d="M15.3 0.0L14.9 2.6L13.5 4.5L11.5 6.1L8.7 7.3L5.4 8.1L1.8 8.6L-1.8 8.6L-5.4 8.1L-8.7 7.3L-11.5 6.1L-13.5 4.5L-14.9 2.6L-15.3 -0.0L-14.9 -2.6L-13.5 -5.1L-11.5 -7.3L-8.7 -9.0L-5.4 -10.3L-1.8 -10.9L1.8 -10.9L5.4 -10.3L8.7 -9.0L11.5 -7.3L13.5 -5.1L14.9 -2.6Z" fill="#ffee00"/><path d="M12.8 0.0L12.4 2.0L11.3 3.6L9.5 5.0L7.2 6.1L4.5 6.9L1.5 7.3L-1.5 7.3L-4.5 6.9L-7.2 6.1L-9.5 5.0L-11.3 3.6L-12.4 2.0L-12.8 -0.0L-12.4 -2.3L-11.3 -4.4L-9.5 -6.3L-7.2 -7.8L-4.5 -8.8L-1.5 -9.4L1.5 -9.4L4.5 -8.8L7.2 -7.8L9.5 -6.3L11.3 -4.4L12.4 -2.3Z" fill="#ff8800"/><path d="M10.2 0.0L9.9 1.5L9.0 2.8L7.6 4.0L5.8 5.0L3.6 5.7L1.2 6.1L-1.2 6.1L-3.6 5.7L-5.8 5.0L-7.6 4.0L-9.0 2.8L-9.9 1.5L-10.2 -0.0L-9.9 -1.9L-9.0 -3.7L-7.6 -5.3L-5.8 -6.5L-3.6 -7.4L-1.2 -7.9L1.2 -7.9L3.6 -7.4L5.8 -6.5L7.6 -5.3L9.0 -3.7L9.9 -1.9Z" fill="#ff1000"/><path d="M7.9 0.0L7.7 1.1L7.0 2.2L5.9 3.1L4.5 3.8L2.8 4.3L1.0 4.6L-1.0 4.6L-2.8 4.3L-4.5 3.8L-5.9 3.1L-7.0 2.2L-7.7 1.1L-7.9 -0.0L-7.7 -1.5L-7.0 -3.0L-5.9 -4.2L-4.5 -5.2L-2.8 -6.0L-1.0 -6.3L1.0 -6.3L2.8 -6.0L4.5 -5.2L5.9 -4.2L7.0 -3.0L7.7 -1.5Z" fill="#ff0070"/><path d="M5.6 0.0L5.4 0.8L5.0 1.5L4.2 2.1L3.2 2.6L2.0 3.0L0.7 3.1L-0.7 3.1L-2.0 3.0L-3.2 2.6L-4.2 2.1L-5.0 1.5L-5.4 0.8L-5.6 -0.0L-5.4 -1.1L-5.0 -2.2L-4.2 -3.1L-3.2 -3.9L-2.0 -4.4L-0.7 -4.7L0.7 -4.7L2.0 -4.4L3.2 -3.9L4.2 -3.1L5.0 -2.2L5.4 -1.1Z" fill="#ff10e0"/><path d="M2.6 0.0L2.5 0.3L2.3 0.7L1.9 1.0L1.4 1.2L0.9 1.3L0.3 1.4L-0.3 1.4L-0.9 1.3L-1.4 1.2L-1.9 1.0L-2.3 0.7L-2.5 0.3L-2.6 -0.0L-2.5 -0.5L-2.3 -1.0L-1.9 -1.4L-1.4 -1.8L-0.9 -2.0L-0.3 -2.1L0.3 -2.1L0.9 -2.0L1.4 -1.8L1.9 -1.4L2.3 -1.0L2.5 -0.5Z" fill="#ff80ff"/></g>
<g transform="translate(1900.7 255.7) rotate(140)"><path d="M31.7 0.0L30.8 6.7L28.1 9.9L23.7 12.2L18.0 13.8L11.2 14.9L3.8 15.4L-3.8 15.4L-11.2 14.9L-18.0 13.8L-23.7 12.2L-28.1 9.9L-30.8 6.7L-31.7 -0.0L-30.8 -5.3L-28.1 -10.4L-23.7 -14.8L-18.0 -18.4L-11.2 -20.9L-3.8 -22.2L3.8 -22.2L11.2 -20.9L18.0 -18.4L23.7 -14.8L28.1 -10.4L30.8 -5.3Z" fill="#000058"/><path d="M29.4 0.0L28.5 6.4L26.0 9.4L22.0 11.5L16.7 13.0L10.4 14.0L3.5 14.5L-3.5 14.5L-10.4 14.0L-16.7 13.0L-22.0 11.5L-26.0 9.4L-28.5 6.4L-29.4 -0.0L-28.5 -4.9L-26.0 -9.5L-22.0 -13.5L-16.7 -16.8L-10.4 -19.1L-3.5 -20.3L3.5 -20.3L10.4 -19.1L16.7 -16.8L22.0 -13.5L26.0 -9.5L28.5 -4.9Z" fill="#0018d8"/><path d="M27.3 0.0L26.5 5.9L24.2 8.7L20.4 10.7L15.5 12.2L9.7 13.1L3.3 13.6L-3.3 13.6L-9.7 13.1L-15.5 12.2L-20.4 10.7L-24.2 8.7L-26.5 5.9L-27.3 -0.0L-26.5 -4.5L-24.2 -8.7L-20.4 -12.3L-15.5 -15.3L-9.7 -17.4L-3.3 -18.5L3.3 -18.5L9.7 -17.4L15.5 -15.3L20.4 -12.3L24.2 -8.7L26.5 -4.5Z" fill="#0090ff"/><path d="M25.2 0.0L24.5 5.5L22.3 8.1L18.9 10.0L14.3 11.3L8.9 12.2L3.0 12.6L-3.0 12.6L-8.9 12.2L-14.3 11.3L-18.9 10.0L-22.3 8.1L-24.5 5.5L-25.2 -0.0L-24.5 -4.1L-22.3 -7.9L-18.9 -11.3L-14.3 -14.0L-8.9 -15.9L-3.0 -16.9L3.0 -16.9L8.9 -15.9L14.3 -14.0L18.9 -11.3L22.3 -7.9L24.5 -4.1Z" fill="#00e8ff"/><path d="M22.1 0.0L21.5 4.4L19.6 6.9L16.5 8.7L12.6 10.1L7.8 10.9L2.7 11.4L-2.7 11.4L-7.8 10.9L-12.6 10.1L-16.5 8.7L-19.6 6.9L-21.5 4.4L-22.1 -0.0L-21.5 -3.6L-19.6 -7.0L-16.5 -10.0L-12.6 -12.4L-7.8 -14.1L-2.7 -15.0L2.7 -15.0L7.8 -14.1L12.6 -12.4L16.5 -10.0L19.6 -7.0L21.5 -3.6Z" fill="#00ff90"/><path d="M20.0 0.0L19.4 3.8L17.7 6.1L15.0 7.9L11.4 9.2L7.1 10.1L2.4 10.6L-2.4 10.6L-7.1 10.1L-11.4 9.2L-15.0 7.9L-17.7 6.1L-19.4 3.8L-20.0 -0.0L-19.4 -3.3L-17.7 -6.4L-15.0 -9.2L-11.4 -11.4L-7.1 -13.0L-2.4 -13.8L2.4 -13.8L7.1 -13.0L11.4 -11.4L15.0 -9.2L17.7 -6.4L19.4 -3.3Z" fill="#20ff20"/><path d="M17.7 0.0L17.2 3.1L15.7 5.2L13.2 6.9L10.0 8.2L6.3 9.1L2.1 9.5L-2.1 9.5L-6.3 9.1L-10.0 8.2L-13.2 6.9L-15.7 5.2L-17.2 3.1L-17.7 -0.0L-17.2 -3.0L-15.7 -5.8L-13.2 -8.3L-10.0 -10.3L-6.3 -11.7L-2.1 -12.4L2.1 -12.4L6.3 -11.7L10.0 -10.3L13.2 -8.3L15.7 -5.8L17.2 -3.0Z" fill="#c0ff00"/><path d="M15.6 0.0L15.1 2.6L13.8 4.5L11.7 6.1L8.9 7.3L5.5 8.1L1.9 8.6L-1.9 8.6L-5.5 8.1L-8.9 7.3L-11.7 6.1L-13.8 4.5L-15.1 2.6L-15.6 -0.0L-15.1 -2.7L-13.8 -5.3L-11.7 -7.5L-8.9 -9.3L-5.5 -10.6L-1.9 -11.2L1.9 -11.2L5.5 -10.6L8.9 -9.3L11.7 -7.5L13.8 -5.3L15.1 -2.7Z" fill="#ffee00"/><path d="M13.0 0.0L12.6 2.0L11.5 3.6L9.7 5.0L7.4 6.1L4.6 6.9L1.6 7.3L-1.6 7.3L-4.6 6.9L-7.4 6.1L-9.7 5.0L-11.5 3.6L-12.6 2.0L-13.0 -0.0L-12.6 -2.3L-11.5 -4.5L-9.7 -6.5L-7.4 -8.0L-4.6 -9.1L-1.6 -9.7L1.6 -9.7L4.6 -9.1L7.4 -8.0L9.7 -6.5L11.5 -4.5L12.6 -2.3Z" fill="#ff8800"/><path d="M10.4 0.0L10.1 1.5L9.2 2.8L7.8 4.0L5.9 5.0L3.7 5.7L1.3 6.1L-1.3 6.1L-3.7 5.7L-5.9 5.0L-7.8 4.0L-9.2 2.8L-10.1 1.5L-10.4 -0.0L-10.1 -2.0L-9.2 -3.8L-7.8 -5.4L-5.9 -6.7L-3.7 -7.6L-1.3 -8.1L1.3 -8.1L3.7 -7.6L5.9 -6.7L7.8 -5.4L9.2 -3.8L10.1 -2.0Z" fill="#ff1000"/><path d="M8.1 0.0L7.8 1.1L7.1 2.2L6.0 3.1L4.6 3.8L2.9 4.3L1.0 4.6L-1.0 4.6L-2.9 4.3L-4.6 3.8L-6.0 3.1L-7.1 2.2L-7.8 1.1L-8.1 -0.0L-7.8 -1.6L-7.1 -3.0L-6.0 -4.4L-4.6 -5.4L-2.9 -6.1L-1.0 -6.5L1.0 -6.5L2.9 -6.1L4.6 -5.4L6.0 -4.4L7.1 -3.0L7.8 -1.6Z" fill="#ff0070"/><path d="M5.7 0.0L5.6 0.8L5.1 1.5L4.3 2.1L3.2 2.6L2.0 3.0L0.7 3.1L-0.7 3.1L-2.0 3.0L-3.2 2.6L-4.3 2.1L-5.1 1.5L-5.6 0.8L-5.7 -0.0L-5.6 -1.2L-5.1 -2.3L-4.3 -3.2L-3.2 -4.0L-2.0 -4.6L-0.7 -4.8L0.7 -4.8L2.0 -4.6L3.2 -4.0L4.3 -3.2L5.1 -2.3L5.6 -1.2Z" fill="#ff10e0"/><path d="M2.6 0.0L2.5 0.3L2.3 0.7L1.9 1.0L1.5 1.2L0.9 1.3L0.3 1.4L-0.3 1.4L-0.9 1.3L-1.5 1.2L-1.9 1.0L-2.3 0.7L-2.5 0.3L-2.6 -0.0L-2.5 -0.5L-2.3 -1.0L-1.9 -1.5L-1.5 -1.8L-0.9 -2.1L-0.3 -2.2L0.3 -2.2L0.9 -2.1L1.5 -1.8L1.9 -1.5L2.3 -1.0L2.5 -0.5Z" fill="#ff80ff"/></g>
<g transform="translate(1873.5 347.0) rotate(-90)"><path d="M37.2 0.0L36.1 8.3L32.9 12.2L27.9 15.0L21.1 17.0L13.2 18.3L4.5 19.0L-4.5 19.0L-13.2 18.3L-21.1 17.0L-27.9 15.0L-32.9 12.2L-36.1 8.3L-37.2 -0.0L-36.1 -5.8L-32.9 -11.3L-27.9 -16.1L-21.1 -20.0L-13.2 -22.7L-4.5 -24.1L4.5 -24.1L13.2 -22.7L21.1 -20.0L27.9 -16.1L32.9 -11.3L36.1 -5.8Z" fill="#000058"/><path d="M34.5 0.0L33.5 7.8L30.5 11.5L25.8 14.2L19.6 16.0L12.2 17.3L4.2 17.9L-4.2 17.9L-12.2 17.3L-19.6 16.0L-25.8 14.2L-30.5 11.5L-33.5 7.8L-34.5 -0.0L-33.5 -5.3L-30.5 -10.3L-25.8 -14.7L-19.6 -18.2L-12.2 -20.7L-4.2 -22.0L4.2 -22.0L12.2 -20.7L19.6 -18.2L25.8 -14.7L30.5 -10.3L33.5 -5.3Z" fill="#0018d8"/><path d="M32.0 0.0L31.1 7.3L28.4 10.7L24.0 13.2L18.2 15.0L11.4 16.1L3.9 16.7L-3.9 16.7L-11.4 16.1L-18.2 15.0L-24.0 13.2L-28.4 10.7L-31.1 7.3L-32.0 -0.0L-31.1 -4.8L-28.4 -9.4L-24.0 -13.4L-18.2 -16.6L-11.4 -18.9L-3.9 -20.1L3.9 -20.1L11.4 -18.9L18.2 -16.6L24.0 -13.4L28.4 -9.4L31.1 -4.8Z" fill="#0090ff"/><path d="M29.6 0.0L28.7 6.8L26.2 10.0L22.1 12.3L16.8 13.9L10.5 15.0L3.6 15.6L-3.6 15.6L-10.5 15.0L-16.8 13.9L-22.1 12.3L-26.2 10.0L-28.7 6.8L-29.6 -0.0L-28.7 -4.4L-26.2 -8.6L-22.1 -12.3L-16.8 -15.2L-10.5 -17.3L-3.6 -18.3L3.6 -18.3L10.5 -17.3L16.8 -15.2L22.1 -12.3L26.2 -8.6L28.7 -4.4Z" fill="#00e8ff"/><path d="M25.9 0.0L25.2 5.5L23.0 8.5L19.4 10.7L14.7 12.4L9.2 13.5L3.1 14.0L-3.1 14.0L-9.2 13.5L-14.7 12.4L-19.4 10.7L-23.0 8.5L-25.2 5.5L-25.9 -0.0L-25.2 -3.9L-23.0 -7.6L-19.4 -10.9L-14.7 -13.5L-9.2 -15.4L-3.1 -16.3L3.1 -16.3L9.2 -15.4L14.7 -13.5L19.4 -10.9L23.0 -7.6L25.2 -3.9Z" fill="#00ff90"/><path d="M23.5 0.0L22.8 4.6L20.8 7.5L17.6 9.7L13.3 11.3L8.3 12.4L2.8 13.0L-2.8 13.0L-8.3 12.4L-13.3 11.3L-17.6 9.7L-20.8 7.5L-22.8 4.6L-23.5 -0.0L-22.8 -3.6L-20.8 -7.0L-17.6 -10.0L-13.3 -12.4L-8.3 -14.1L-2.8 -14.9L2.8 -14.9L8.3 -14.1L13.3 -12.4L17.6 -10.0L20.8 -7.0L22.8 -3.6Z" fill="#20ff20"/><path d="M20.7 0.0L20.1 3.8L18.4 6.4L15.5 8.5L11.8 10.1L7.4 11.2L2.5 11.7L-2.5 11.7L-7.4 11.2L-11.8 10.1L-15.5 8.5L-18.4 6.4L-20.1 3.8L-20.7 -0.0L-20.1 -3.2L-18.4 -6.3L-15.5 -9.0L-11.8 -11.2L-7.4 -12.7L-2.5 -13.5L2.5 -13.5L7.4 -12.7L11.8 -11.2L15.5 -9.0L18.4 -6.3L20.1 -3.2Z" fill="#c0ff00"/><path d="M18.3 0.0L17.8 3.1L16.2 5.5L13.7 7.5L10.4 9.0L6.5 10.0L2.2 10.5L-2.2 10.5L-6.5 10.0L-10.4 9.0L-13.7 7.5L-16.2 5.5L-17.8 3.1L-18.3 -0.0L-17.8 -2.9L-16.2 -5.7L-13.7 -8.1L-10.4 -10.1L-6.5 -11.5L-2.2 -12.2L2.2 -12.2L6.5 -11.5L10.4 -10.1L13.7 -8.1L16.2 -5.7L17.8 -2.9Z" fill="#ffee00"/><path d="M14.0 0.0L13.6 2.2L12.4 4.1L10.5 5.7L8.0 7.0L5.0 7.9L1.7 8.4L-1.7 8.4L-5.0 7.9L-8.0 7.0L-10.5 5.7L-12.4 4.1L-13.6 2.2L-14.0 -0.0L-13.6 -2.4L-12.4 -4.6L-10.5 -6.6L-8.0 -8.1L-5.0 -9.3L-1.7 -9.8L1.7 -9.8L5.0 -9.3L8.0 -8.1L10.5 -6.6L12.4 -4.6L13.6 -2.4Z" fill="#ff8800"/><path d="M10.1 0.0L9.8 1.5L8.9 2.8L7.5 4.1L5.7 5.0L3.6 5.7L1.2 6.1L-1.2 6.1L-3.6 5.7L-5.7 5.0L-7.5 4.1L-8.9 2.8L-9.8 1.5L-10.1 -0.0L-9.8 -1.8L-8.9 -3.5L-7.5 -5.0L-5.7 -6.2L-3.6 -7.0L-1.2 -7.5L1.2 -7.5L3.6 -7.0L5.7 -6.2L7.5 -5.0L8.9 -3.5L9.8 -1.8Z" fill="#ff2000"/><path d="M5.5 0.0L5.3 0.8L4.9 1.5L4.1 2.1L3.1 2.6L1.9 3.0L0.7 3.2L-0.7 3.2L-1.9 3.0L-3.1 2.6L-4.1 2.1L-4.9 1.5L-5.3 0.8L-5.5 -0.0L-5.3 -1.0L-4.9 -2.0L-4.1 -2.9L-3.1 -3.6L-1.9 -4.1L-0.7 -4.3L0.7 -4.3L1.9 -4.1L3.1 -3.6L4.1 -2.9L4.9 -2.0L5.3 -1.0Z" fill="#ff1000"/></g>
<g transform="translate(1909.3 348.6) rotate(90)"><path d="M36.6 0.0L35.5 7.3L32.4 10.7L27.4 13.1L20.8 14.9L13.0 16.0L4.4 16.6L-4.4 16.6L-13.0 16.0L-20.8 14.9L-27.4 13.1L-32.4 10.7L-35.5 7.3L-36.6 -0.0L-35.5 -7.4L-32.4 -14.4L-27.4 -20.5L-20.8 -25.4L-13.0 -28.9L-4.4 -30.7L4.4 -30.7L13.0 -28.9L20.8 -25.4L27.4 -20.5L32.4 -14.4L35.5 -7.4Z" fill="#000058"/><path d="M33.9 0.0L32.9 6.9L30.0 10.1L25.4 12.4L19.3 14.0L12.0 15.1L4.1 15.6L-4.1 15.6L-12.0 15.1L-19.3 14.0L-25.4 12.4L-30.0 10.1L-32.9 6.9L-33.9 -0.0L-32.9 -6.8L-30.0 -13.1L-25.4 -18.7L-19.3 -23.2L-12.0 -26.4L-4.1 -28.0L4.1 -28.0L12.0 -26.4L19.3 -23.2L25.4 -18.7L30.0 -13.1L32.9 -6.8Z" fill="#0018d8"/><path d="M31.5 0.0L30.6 6.4L27.9 9.4L23.6 11.6L17.9 13.1L11.2 14.1L3.8 14.6L-3.8 14.6L-11.2 14.1L-17.9 13.1L-23.6 11.6L-27.9 9.4L-30.6 6.4L-31.5 -0.0L-30.6 -6.2L-27.9 -12.0L-23.6 -17.1L-17.9 -21.2L-11.2 -24.1L-3.8 -25.6L3.8 -25.6L11.2 -24.1L17.9 -21.2L23.6 -17.1L27.9 -12.0L30.6 -6.2Z" fill="#0090ff"/><path d="M29.1 0.0L28.3 6.0L25.8 8.8L21.8 10.8L16.5 12.2L10.3 13.1L3.5 13.6L-3.5 13.6L-10.3 13.1L-16.5 12.2L-21.8 10.8L-25.8 8.8L-28.3 6.0L-29.1 -0.0L-28.3 -5.6L-25.8 -10.9L-21.8 -15.6L-16.5 -19.4L-10.3 -22.0L-3.5 -23.4L3.5 -23.4L10.3 -22.0L16.5 -19.4L21.8 -15.6L25.8 -10.9L28.3 -5.6Z" fill="#00e8ff"/><path d="M25.5 0.0L24.8 4.8L22.6 7.4L19.1 9.4L14.5 10.8L9.0 11.8L3.1 12.3L-3.1 12.3L-9.0 11.8L-14.5 10.8L-19.1 9.4L-22.6 7.4L-24.8 4.8L-25.5 -0.0L-24.8 -5.0L-22.6 -9.7L-19.1 -13.9L-14.5 -17.2L-9.0 -19.6L-3.1 -20.8L3.1 -20.8L9.0 -19.6L14.5 -17.2L19.1 -13.9L22.6 -9.7L24.8 -5.0Z" fill="#00ff90"/><path d="M23.1 0.0L22.4 4.1L20.5 6.6L17.3 8.5L13.1 9.9L8.2 10.9L2.8 11.4L-2.8 11.4L-8.2 10.9L-13.1 9.9L-17.3 8.5L-20.5 6.6L-22.4 4.1L-23.1 -0.0L-22.4 -4.6L-20.5 -8.9L-17.3 -12.7L-13.1 -15.8L-8.2 -17.9L-2.8 -19.0L2.8 -19.0L8.2 -17.9L13.1 -15.8L17.3 -12.7L20.5 -8.9L22.4 -4.6Z" fill="#20ff20"/><path d="M20.4 0.0L19.8 3.3L18.1 5.6L15.3 7.4L11.6 8.8L7.2 9.8L2.5 10.2L-2.5 10.2L-7.2 9.8L-11.6 8.8L-15.3 7.4L-18.1 5.6L-19.8 3.3L-20.4 -0.0L-19.8 -4.1L-18.1 -8.0L-15.3 -11.5L-11.6 -14.2L-7.2 -16.2L-2.5 -17.2L2.5 -17.2L7.2 -16.2L11.6 -14.2L15.3 -11.5L18.1 -8.0L19.8 -4.1Z" fill="#c0ff00"/><path d="M18.0 0.0L17.5 2.8L15.9 4.8L13.5 6.5L10.2 7.9L6.4 8.8L2.2 9.2L-2.2 9.2L-6.4 8.8L-10.2 7.9L-13.5 6.5L-15.9 4.8L-17.5 2.8L-18.0 -0.0L-17.5 -3.7L-15.9 -7.3L-13.5 -10.4L-10.2 -12.9L-6.4 -14.6L-2.2 -15.5L2.2 -15.5L6.4 -14.6L10.2 -12.9L13.5 -10.4L15.9 -7.3L17.5 -3.7Z" fill="#ffee00"/><path d="M15.0 0.0L14.6 2.1L13.3 3.9L11.2 5.4L8.5 6.6L5.3 7.4L1.8 7.9L-1.8 7.9L-5.3 7.4L-8.5 6.6L-11.2 5.4L-13.3 3.9L-14.6 2.1L-15.0 -0.0L-14.6 -3.2L-13.3 -6.3L-11.2 -8.9L-8.5 -11.1L-5.3 -12.6L-1.8 -13.4L1.8 -13.4L5.3 -12.6L8.5 -11.1L11.2 -8.9L13.3 -6.3L14.6 -3.2Z" fill="#ff8800"/><path d="M12.0 0.0L11.7 1.6L10.6 3.1L9.0 4.4L6.8 5.4L4.3 6.1L1.4 6.5L-1.4 6.5L-4.3 6.1L-6.8 5.4L-9.0 4.4L-10.6 3.1L-11.7 1.6L-12.0 -0.0L-11.7 -2.7L-10.6 -5.3L-9.0 -7.5L-6.8 -9.3L-4.3 -10.6L-1.4 -11.2L1.4 -11.2L4.3 -10.6L6.8 -9.3L9.0 -7.5L10.6 -5.3L11.7 -2.7Z" fill="#ff1000"/><path d="M9.3 0.0L9.0 1.2L8.2 2.3L7.0 3.3L5.3 4.1L3.3 4.7L1.1 5.0L-1.1 5.0L-3.3 4.7L-5.3 4.1L-7.0 3.3L-8.2 2.3L-9.0 1.2L-9.3 -0.0L-9.0 -2.2L-8.2 -4.2L-7.0 -6.0L-5.3 -7.5L-3.3 -8.5L-1.1 -9.0L1.1 -9.0L3.3 -8.5L5.3 -7.5L7.0 -6.0L8.2 -4.2L9.0 -2.2Z" fill="#ff0070"/><path d="M6.6 0.0L6.4 0.8L5.8 1.6L4.9 2.3L3.7 2.8L2.3 3.2L0.8 3.4L-0.8 3.4L-2.3 3.2L-3.7 2.8L-4.9 2.3L-5.8 1.6L-6.4 0.8L-6.6 -0.0L-6.4 -1.6L-5.8 -3.1L-4.9 -4.5L-3.7 -5.6L-2.3 -6.3L-0.8 -6.7L0.8 -6.7L2.3 -6.3L3.7 -5.6L4.9 -4.5L5.8 -3.1L6.4 -1.6Z" fill="#ff10e0"/><path d="M3.0 0.0L2.9 0.4L2.7 0.7L2.2 1.0L1.7 1.3L1.1 1.5L0.4 1.5L-0.4 1.5L-1.1 1.5L-1.7 1.3L-2.2 1.0L-2.7 0.7L-2.9 0.4L-3.0 -0.0L-2.9 -0.7L-2.7 -1.4L-2.2 -2.0L-1.7 -2.5L-1.1 -2.9L-0.4 -3.0L0.4 -3.0L1.1 -2.9L1.7 -2.5L2.2 -2.0L2.7 -1.4L2.9 -0.7Z" fill="#ff80ff"/></g>
</g>
<g filter="url(#b1)" opacity="0.96">
<path d="M1836.0 70.0L1836.0 161.5" stroke="#fff" stroke-width="3.9" fill="none"/><path d="M1836.0 57.5L1828.4 70.0L1843.6 70.0Z" fill="#fff"/><path d="M1836.0 174.0L1828.4 161.5L1843.6 161.5Z" fill="#fff"/>
<path d="M1904.1 185.5L1969.4 249.9" stroke="#fff" stroke-width="3.9" fill="none"/><path d="M1895.2 176.7L1898.8 190.9L1909.4 180.1Z" fill="#fff"/><path d="M1978.3 258.7L1964.1 255.3L1974.7 244.5Z" fill="#fff"/>
<path d="M1849.1 389.5L1939.2 389.5" stroke="#fff" stroke-width="3.9" fill="none"/><path d="M1836.6 389.5L1849.1 397.1L1849.1 381.9Z" fill="#fff"/><path d="M1951.7 389.5L1939.2 397.1L1939.2 381.9Z" fill="#fff"/>
</g>
</g>
<text x="1688.6" y="607" font-size="44.5" font-weight="bold" text-anchor="middle" fill="#2b2f38">c</text>
</svg></body></html>
